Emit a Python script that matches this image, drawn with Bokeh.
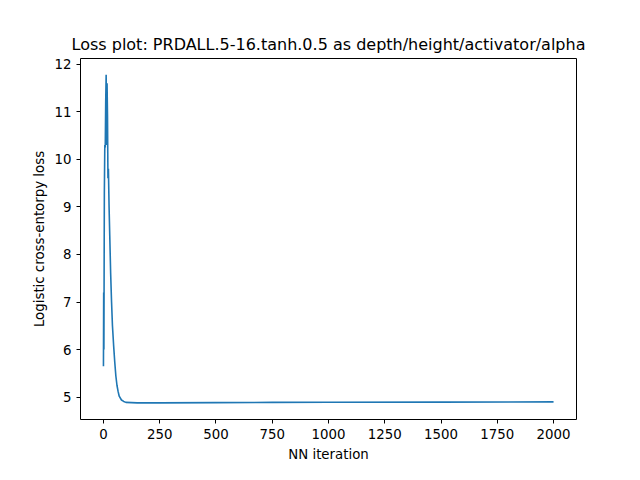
from bokeh.plotting import figure
from bokeh.models import Range1d, FixedTicker
from bokeh.embed import file_html
from bokeh.resources import INLINE

# loss values
iteration = [0, 1, 2, 4, 6, 8, 10, 12, 14, 16, 18, 20, 22, 25, 28, 32, 36, 40, 45, 50, 55, 60,
             65, 70, 80, 90, 100, 150, 250, 500, 750, 1000, 1500, 2000]
loss = [5.65, 7.2, 6.0, 9.3, 10.3, 10.25, 11.2, 11.78, 10.3, 11.6, 10.9, 9.6, 9.8, 9.0, 8.4,
        7.6, 7.0, 6.5, 6.1, 5.75, 5.45, 5.25, 5.12, 5.02, 4.94, 4.91, 4.89, 4.88, 4.88,
        4.885, 4.89, 4.892, 4.896, 4.9]

p = figure(width=624, height=464, output_backend="svg", toolbar_location=None,
           title="Loss plot: PRDALL.5-16.tanh.0.5 as depth/height/activator/alpha",
           x_axis_label="NN iteration", y_axis_label="Logistic cross-entorpy loss",
           min_border_left=80, min_border_right=48, min_border_top=58, min_border_bottom=37)
p.x_range = Range1d(-102, 2102)
p.y_range = Range1d(4.53, 12.12)
p.line(iteration, loss, line_width=1.6, color="#1f77b4")

p.xaxis.ticker = FixedTicker(ticks=[0, 250, 500, 750, 1000, 1250, 1500, 1750, 2000])
p.yaxis.ticker = FixedTicker(ticks=[5, 6, 7, 8, 9, 10, 11, 12])
p.grid.visible = False
p.outline_line_color = "black"
p.title.align = "center"
p.title.text_font = "DejaVu Sans"
p.title.text_font_size = "12pt"
p.title.text_font_style = "normal"
p.title.text_color = "black"
for ax in (p.xaxis, p.yaxis):
    ax.axis_label_text_font = "DejaVu Sans"
    ax.axis_label_text_font_style = "normal"
    ax.axis_label_text_font_size = "10pt"
    ax.axis_label_text_color = "black"
    ax.major_label_text_font = "DejaVu Sans"
    ax.major_label_text_font_size = "10pt"
    ax.major_label_text_color = "black"
    ax.major_tick_line_color = "black"
    ax.minor_tick_line_color = None
    ax.major_tick_in = 0
    ax.major_tick_out = 4
    ax.axis_line_color = None

open("out.html", "w").write(file_html(p, INLINE))
